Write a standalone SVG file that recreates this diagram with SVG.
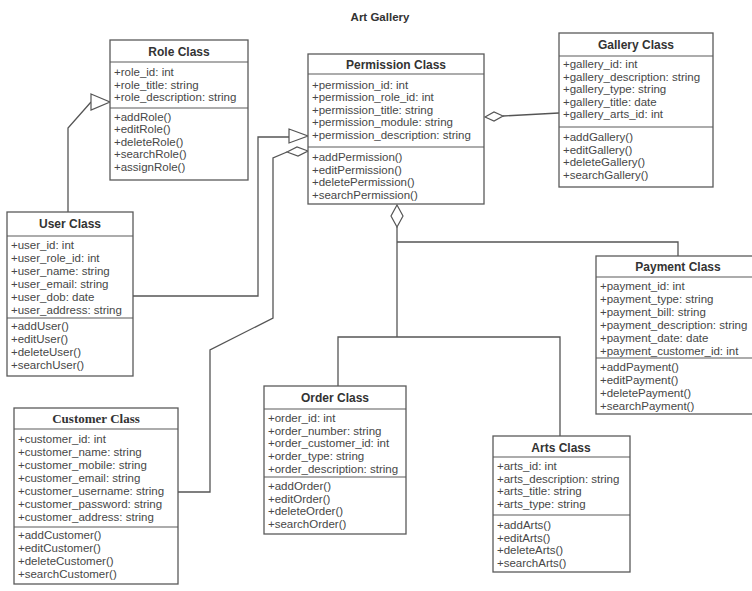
<svg xmlns="http://www.w3.org/2000/svg" width="752" height="591" viewBox="0 0 752 591">
<style>
.box{fill:#fff;stroke:#5a5a5a;stroke-width:1.3}
.sep{stroke:#5a5a5a;stroke-width:1.2}
.t{font-family:"Liberation Sans",Arial,sans-serif;font-size:12px;font-weight:bold;fill:#333;text-anchor:middle}
.ts{font-family:"Liberation Serif","Times New Roman",serif;font-size:13px;font-weight:bold;fill:#333;text-anchor:middle}
.a{font-family:"Liberation Sans",Arial,sans-serif;font-size:11.5px;fill:#474747}
.c{fill:none;stroke:#555;stroke-width:1.3}
.h{fill:#fff;stroke:#555;stroke-width:1.2}
.title{font-family:"Liberation Sans",Arial,sans-serif;font-size:11.5px;font-weight:bold;fill:#333;text-anchor:middle}
</style>
<rect width="752" height="591" fill="#fff"/>
<text class="title" x="380" y="21">Art Gallery</text>

<g id="connectors">
  <polyline class="c" points="68,212 68,128 91,102"/>
  <polygon class="h" points="91,94 110,102 91,110"/>
  <polyline class="c" points="133,296 258,296 258,137 289,137"/>
  <polygon class="h" points="289,129 308,136 289,143"/>
  <polyline class="c" points="178,492 210,492 210,350 273,318 273,158 287,152"/>
  <polygon class="h" points="287,152 297,147 308,151 298,156"/>
  <polyline class="c" points="503,116 559,113"/>
  <polygon class="h" points="485,117 494,112 503,116 494,121"/>
  <polygon class="h" points="397,205 403,216 397,227 391,216"/>
  <polyline class="c" points="397,227 397,337"/>
  <polyline class="c" points="397,242 678,242 678,256"/>
  <polyline class="c" points="338,386 338,337 560,337 560,436"/>
</g>

<g id="role">
  <rect class="box" x="110" y="40" width="138" height="140"/>
  <line class="sep" x1="110" y1="62" x2="248" y2="62"/>
  <line class="sep" x1="110" y1="108" x2="248" y2="108"/>
  <text class="t" x="179" y="56">Role Class</text>
  <text class="a" x="114" y="76">+role_id: int</text>
  <text class="a" x="114" y="88.5">+role_title: string</text>
  <text class="a" x="114" y="101">+role_description: string</text>
  <text class="a" x="114" y="120.5">+addRole()</text>
  <text class="a" x="114" y="133">+editRole()</text>
  <text class="a" x="114" y="145.5">+deleteRole()</text>
  <text class="a" x="114" y="158">+searchRole()</text>
  <text class="a" x="114" y="170.5">+assignRole()</text>
</g>

<g id="permission">
  <rect class="box" x="308" y="54" width="176" height="150"/>
  <line class="sep" x1="308" y1="74" x2="484" y2="74"/>
  <line class="sep" x1="308" y1="147" x2="484" y2="147"/>
  <text class="t" x="396" y="69">Permission Class</text>
  <text class="a" x="312" y="88.5">+permission_id: int</text>
  <text class="a" x="312" y="101">+permission_role_id: int</text>
  <text class="a" x="312" y="113.5">+permission_title: string</text>
  <text class="a" x="312" y="126">+permission_module: string</text>
  <text class="a" x="312" y="138.5">+permission_description: string</text>
  <text class="a" x="312" y="161">+addPermission()</text>
  <text class="a" x="312" y="173.5">+editPermission()</text>
  <text class="a" x="312" y="186">+deletePermission()</text>
  <text class="a" x="312" y="198.5">+searchPermission()</text>
</g>

<g id="gallery">
  <rect class="box" x="559" y="33" width="154" height="154"/>
  <line class="sep" x1="559" y1="56" x2="713" y2="56"/>
  <line class="sep" x1="559" y1="127" x2="713" y2="127"/>
  <text class="t" x="636" y="49">Gallery Class</text>
  <text class="a" x="563" y="68">+gallery_id: int</text>
  <text class="a" x="563" y="80.5">+gallery_description: string</text>
  <text class="a" x="563" y="93">+gallery_type: string</text>
  <text class="a" x="563" y="105.5">+gallery_title: date</text>
  <text class="a" x="563" y="118">+gallery_arts_id: int</text>
  <text class="a" x="563" y="141">+addGallery()</text>
  <text class="a" x="563" y="153.5">+editGallery()</text>
  <text class="a" x="563" y="166">+deleteGallery()</text>
  <text class="a" x="563" y="178.5">+searchGallery()</text>
</g>

<g id="user">
  <rect class="box" x="7" y="212" width="126" height="164"/>
  <line class="sep" x1="7" y1="236" x2="133" y2="236"/>
  <line class="sep" x1="7" y1="318" x2="133" y2="318"/>
  <text class="t" x="70" y="228">User Class</text>
  <text class="a" x="11" y="248.5">+user_id: int</text>
  <text class="a" x="11" y="261.5">+user_role_id: int</text>
  <text class="a" x="11" y="274.5">+user_name: string</text>
  <text class="a" x="11" y="287.5">+user_email: string</text>
  <text class="a" x="11" y="300.5">+user_dob: date</text>
  <text class="a" x="11" y="313.5">+user_address: string</text>
  <text class="a" x="11" y="330">+addUser()</text>
  <text class="a" x="11" y="343">+editUser()</text>
  <text class="a" x="11" y="356">+deleteUser()</text>
  <text class="a" x="11" y="369">+searchUser()</text>
</g>

<g id="payment">
  <rect class="box" x="596" y="256" width="165" height="158"/>
  <line class="sep" x1="596" y1="277" x2="761" y2="277"/>
  <line class="sep" x1="596" y1="358" x2="761" y2="358"/>
  <text class="t" x="678" y="271">Payment Class</text>
  <text class="a" x="600" y="290">+payment_id: int</text>
  <text class="a" x="600" y="303">+payment_type: string</text>
  <text class="a" x="600" y="316">+payment_bill: string</text>
  <text class="a" x="600" y="329">+payment_description: string</text>
  <text class="a" x="600" y="342">+payment_date: date</text>
  <text class="a" x="600" y="355">+payment_customer_id: int</text>
  <text class="a" x="600" y="371">+addPayment()</text>
  <text class="a" x="600" y="384">+editPayment()</text>
  <text class="a" x="600" y="397">+deletePayment()</text>
  <text class="a" x="600" y="410">+searchPayment()</text>
</g>

<g id="customer">
  <rect class="box" x="14" y="408" width="164" height="176"/>
  <line class="sep" x1="14" y1="429" x2="178" y2="429"/>
  <line class="sep" x1="14" y1="527" x2="178" y2="527"/>
  <text class="ts" x="96" y="423">Customer Class</text>
  <text class="a" x="18" y="442.5">+customer_id: int</text>
  <text class="a" x="18" y="455.5">+customer_name: string</text>
  <text class="a" x="18" y="468.5">+customer_mobile: string</text>
  <text class="a" x="18" y="481.5">+customer_email: string</text>
  <text class="a" x="18" y="494.5">+customer_username: string</text>
  <text class="a" x="18" y="507.5">+customer_password: string</text>
  <text class="a" x="18" y="520.5">+customer_address: string</text>
  <text class="a" x="18" y="539">+addCustomer()</text>
  <text class="a" x="18" y="552">+editCustomer()</text>
  <text class="a" x="18" y="565">+deleteCustomer()</text>
  <text class="a" x="18" y="578">+searchCustomer()</text>
</g>

<g id="order">
  <rect class="box" x="264" y="386" width="142" height="148"/>
  <line class="sep" x1="264" y1="409" x2="406" y2="409"/>
  <line class="sep" x1="264" y1="477" x2="406" y2="477"/>
  <text class="t" x="335" y="402">Order Class</text>
  <text class="a" x="268" y="422">+order_id: int</text>
  <text class="a" x="268" y="434.7">+order_number: string</text>
  <text class="a" x="268" y="447.4">+order_customer_id: int</text>
  <text class="a" x="268" y="460">+order_type: string</text>
  <text class="a" x="268" y="472.7">+order_description: string</text>
  <text class="a" x="268" y="490">+addOrder()</text>
  <text class="a" x="268" y="502.7">+editOrder()</text>
  <text class="a" x="268" y="515.4">+deleteOrder()</text>
  <text class="a" x="268" y="528">+searchOrder()</text>
</g>

<g id="arts">
  <rect class="box" x="493" y="436" width="137" height="136"/>
  <line class="sep" x1="493" y1="457" x2="630" y2="457"/>
  <line class="sep" x1="493" y1="515" x2="630" y2="515"/>
  <text class="t" x="561" y="452">Arts Class</text>
  <text class="a" x="497" y="470">+arts_id: int</text>
  <text class="a" x="497" y="482.7">+arts_description: string</text>
  <text class="a" x="497" y="495.4">+arts_title: string</text>
  <text class="a" x="497" y="508">+arts_type: string</text>
  <text class="a" x="497" y="529">+addArts()</text>
  <text class="a" x="497" y="541.7">+editArts()</text>
  <text class="a" x="497" y="554.4">+deleteArts()</text>
  <text class="a" x="497" y="567">+searchArts()</text>
</g>
</svg>
